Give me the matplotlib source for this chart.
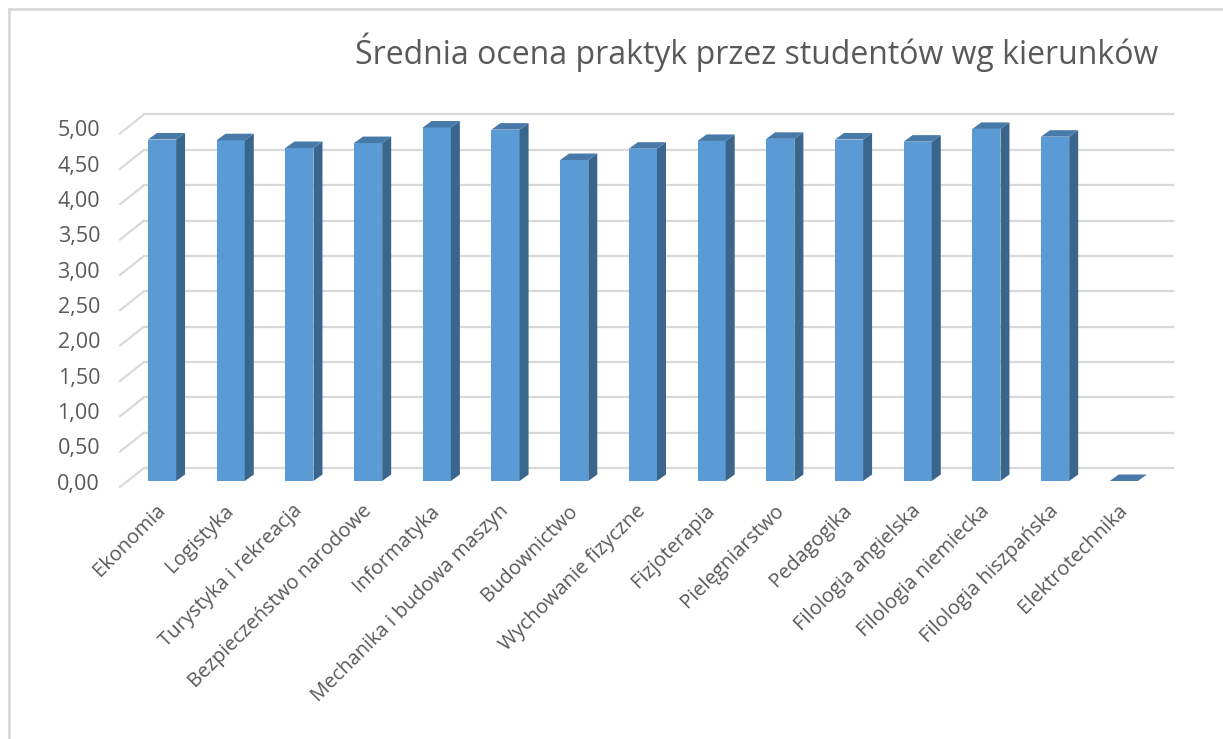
"""Średnia ocena praktyk przez studentów wg kierunków – pseudo-3D słupki (styl Excela)."""

import matplotlib
matplotlib.use("Agg")
import matplotlib.pyplot as plt
from matplotlib.lines import Line2D

plt.rcParams["font.family"] = ["Open Sans", "DejaVu Sans"]

# --- dane ---
kierunki = ["Ekonomia", "Logistyka", "Turystyka i rekreacja", "Bezpieczeństwo narodowe",
            "Informatyka", "Mechanika i budowa maszyn", "Budownictwo", "Wychowanie fizyczne",
            "Fizjoterapia", "Pielęgniarstwo", "Pedagogika", "Filologia angielska",
            "Filologia niemiecka", "Filologia hiszpańska", "Elektrotechnika"]
oceny = [4.83, 4.82, 4.71, 4.78, 5.00, 4.97, 4.54, 4.70, 4.81, 4.84, 4.83, 4.80, 4.98, 4.87, 0.00]
y_ticks = [0.0, 0.5, 1.0, 1.5, 2.0, 2.5, 3.0, 3.5, 4.0, 4.5, 5.0]
tytul = "Średnia ocena praktyk przez studentów wg kierunków"

# --- styl ---
C_FRONT = "#5B9BD5"; C_SIDE = "#3A668E"; C_TOP = "#4779A9"
C_GRID = "#D9D9D9"; C_TXT = "#595959"

W, H = 1223, 739
fig = plt.figure(figsize=(W / 100, H / 100), dpi=100)
fig.patch.set_facecolor("white")

# Achse so gelegt, dass Kategorie i -> px 162+68.7*i, Wert v -> px 481-70.7*v
x0, x1, y0, y1 = -1.0, 15.0, -0.3, 5.5
px_l = 162 + 68.7 * x0; px_r = 162 + 68.7 * x1
py_b = 481 + 70.7 * (-y0); py_t = 481 - 70.7 * y1
ax = fig.add_axes([px_l / W, (H - py_b) / H, (px_r - px_l) / W, (py_b - py_t) / H])
ax.set_xlim(x0, x1); ax.set_ylim(y0, y1); ax.axis("off")

# Tiefen-Offsets (Datenkoordinaten)
bw = 0.41                      # Balkenbreite
bdx, bdy = 9 / 68.7, 6.5 / 70.7  # Balkentiefe
wall_x0, wall_x1, wall_dy = -0.262, 14.716, 0.184   # Rückwand
side_x, side_dy = -0.611, -0.085                    # Vorderkante Seitenwand

for v in y_ticks:
    ax.plot([wall_x0, wall_x1], [v + wall_dy, v + wall_dy], color=C_GRID, lw=1.6, zorder=1)
    ax.plot([side_x, wall_x0], [v + side_dy, v + wall_dy], color=C_GRID, lw=1.6, zorder=1)
    ax.text(side_x - 0.29, v + side_dy + 0.04, f"{v:.2f}".replace(".", ","), ha="right",
            va="center", fontsize=15.5, color=C_TXT)

xs = list(range(len(kierunki)))
ax.bar(xs, oceny, width=bw, color=C_FRONT, zorder=3, linewidth=0)
for x, v, lab in zip(xs, oceny, kierunki):
    xl, xr = x - bw / 2, x + bw / 2
    ax.fill([xr, xr + bdx, xr + bdx, xr], [0, bdy, v + bdy, v], color=C_SIDE, lw=0, zorder=3)
    ax.fill([xl, xr, xr + bdx, xl + bdx], [v, v, v + bdy, v + bdy], color=C_TOP, lw=0, zorder=4)
    ax.text(x - 0.1, -0.28, lab, rotation=45, ha="right", va="top",
            rotation_mode="anchor", fontsize=14.5, color=C_TXT)

fig.text(757 / W, (H - 64) / H, tytul, ha="center", va="baseline", fontsize=23, color=C_TXT)

# Rahmen (nur links und oben sichtbar)
fig.add_artist(Line2D([9 / W, 9 / W], [0, (H - 9) / H], color=C_GRID, lw=2))
fig.add_artist(Line2D([9 / W, 1], [(H - 9) / H, (H - 9) / H], color=C_GRID, lw=2))

fig.savefig("out.png", dpi=100)
